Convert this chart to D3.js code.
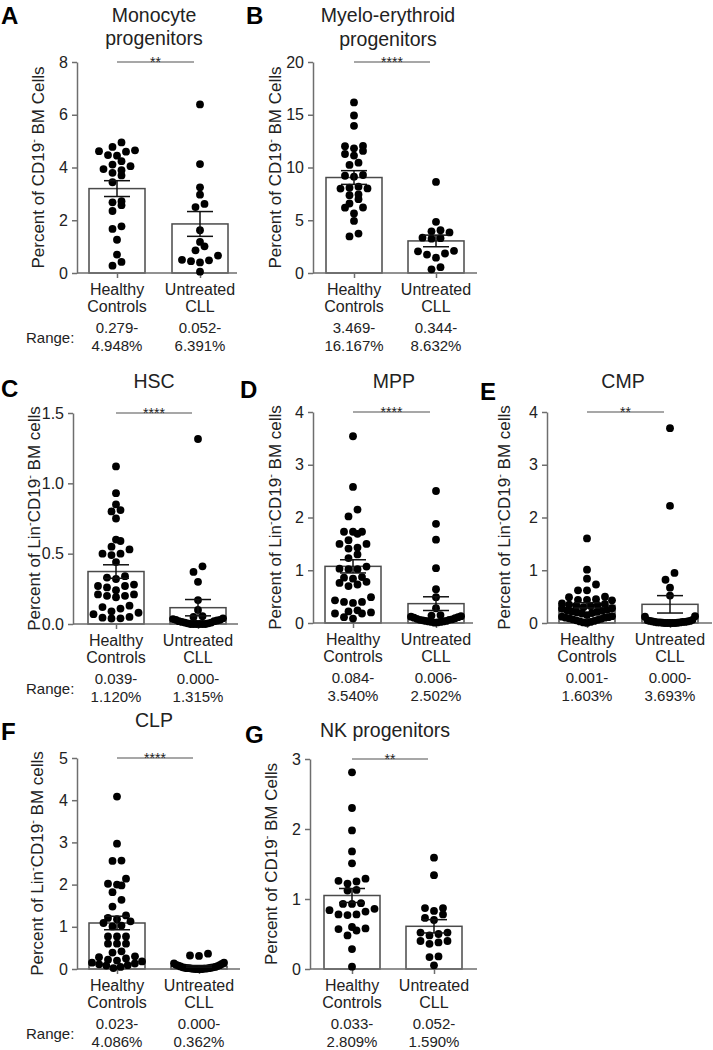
<!DOCTYPE html>
<html><head><meta charset="utf-8">
<script src="https://cdn.jsdelivr.net/npm/d3@7"></script>
<style>
body{margin:0;background:#fff}
svg{display:block}
text{font-family:"Liberation Sans",Arial,sans-serif;fill:#222}
</style>
</head><body>
<svg id="chart" width="713" height="1050"></svg>
<script>
// ---------------- DATA ----------------
const categories = ["Healthy", "Untreated"];
const categoryLine2 = ["Controls", "CLL"];
const panelIds = ["A", "B", "C", "D", "E", "F", "G"];
const titles = [["Monocyte", "progenitors"], ["Myelo-erythroid", "progenitors"], ["HSC"], ["MPP"], ["CMP"], ["CLP"], ["NK progenitors"]];
const yLabelKinds = ["cd19", "cd19", "lin", "lin", "lin", "lin", "cd19"];
const yMax = [8, 20, 1.5, 4, 4, 5, 3];
const yTicks = [[0, 2, 4, 6, 8], [0, 5, 10, 15, 20], [0, 0.5, 1.0, 1.5], [0, 1, 2, 3, 4], [0, 1, 2, 3, 4], [0, 1, 2, 3, 4, 5], [0, 1, 2, 3]];
const tickFormats = ["d", "d", ".1f", "d", "d", "d", "d"];
const significance = ["**", "****", "****", "****", "**", "****", "**"];

const monoHealthy = [4.95, 4.78, 4.62, 4.60, 4.65, 4.47, 4.45, 4.24, 4.11, 4.05, 3.94, 3.90, 3.80, 3.70, 3.44, 2.72, 2.68, 2.57, 2.35, 1.77, 1.67, 1.26, 0.70, 0.42, 0.279];
const monoCLL = [6.391, 4.13, 3.25, 2.97, 2.62, 2.50, 1.62, 1.18, 1.01, 0.86, 0.66, 0.50, 0.48, 0.45, 0.40, 0.052];
const meHealthy = [16.167, 14.93, 13.95, 12.04, 12.02, 11.82, 11.57, 11.28, 11.13, 10.46, 10.24, 9.29, 9.22, 9.13, 8.18, 8.08, 8.02, 8.00, 7.45, 7.38, 7.0, 6.59, 6.21, 6.19, 5.64, 4.94, 3.74, 3.469];
const meCLL = [8.632, 4.85, 4.05, 3.95, 3.85, 3.35, 3.30, 3.25, 2.10, 2.05, 1.85, 1.75, 1.45, 0.55, 0.344];
const hscHealthy = [1.12, 0.93, 0.85, 0.81, 0.80, 0.75, 0.60, 0.59, 0.55, 0.53, 0.50, 0.50, 0.49, 0.44, 0.34, 0.33, 0.32, 0.28, 0.27, 0.27, 0.26, 0.24, 0.21, 0.21, 0.20, 0.20, 0.19, 0.13, 0.12, 0.11, 0.09, 0.08, 0.07, 0.05, 0.045, 0.04, 0.039];
const hscCLL = [1.315, 0.41, 0.37, 0.30, 0.17, 0.10, 0.055, 0.05, 0.04, 0.035, 0.03, 0.03, 0.025, 0.02, 0.02, 0.015, 0.01, 0.01, 0.005, 0.005, 0, 0, 0, 0, 0, 0];
const mppHealthy = [3.54, 2.58, 2.15, 2.02, 1.73, 1.73, 1.73, 1.69, 1.57, 1.50, 1.50, 1.43, 1.41, 1.30, 1.23, 1.07, 1.03, 1.02, 1.02, 0.87, 0.86, 0.84, 0.78, 0.76, 0.73, 0.70, 0.49, 0.43, 0.40, 0.40, 0.38, 0.24, 0.22, 0.20, 0.18, 0.18, 0.11, 0.084];
const mppCLL = [2.502, 1.88, 1.58, 1.04, 0.64, 0.49, 0.28, 0.15, 0.14, 0.13, 0.12, 0.11, 0.10, 0.09, 0.08, 0.07, 0.06, 0.06, 0.05, 0.04, 0.04, 0.03, 0.03, 0.02, 0.02, 0.01, 0.006];
const cmpHealthy = [1.603, 1.01, 0.84, 0.73, 0.62, 0.62, 0.50, 0.49, 0.45, 0.44, 0.44, 0.43, 0.37, 0.36, 0.35, 0.34, 0.33, 0.32, 0.30, 0.28, 0.27, 0.25, 0.24, 0.23, 0.22, 0.21, 0.20, 0.19, 0.18, 0.15, 0.13, 0.12, 0.11, 0.10, 0.10, 0.09, 0.08, 0.07, 0.06, 0.05, 0.04, 0.03, 0.02, 0.01, 0.001];
const cmpCLL = [3.693, 2.22, 0.95, 0.82, 0.67, 0.52, 0.13, 0.12, 0.06, 0.05, 0.04, 0.04, 0.03, 0.03, 0.02, 0.02, 0.02, 0.01, 0.01, 0.01, 0.005, 0.005, 0, 0, 0, 0, 0];
const clpHealthy = [4.086, 2.97, 2.57, 2.56, 2.14, 2.0, 1.98, 2.02, 1.82, 1.64, 1.48, 1.27, 1.21, 1.18, 1.13, 1.09, 1.03, 1.01, 0.77, 0.77, 0.77, 0.60, 0.60, 0.60, 0.42, 0.39, 0.30, 0.28, 0.25, 0.22, 0.20, 0.18, 0.15, 0.13, 0.11, 0.09, 0.08, 0.05, 0.023];
const clpCLL = [0.362, 0.32, 0.31, 0.15, 0.13, 0.12, 0.10, 0.09, 0.08, 0.07, 0.06, 0.05, 0.04, 0.04, 0.03, 0.03, 0.02, 0.02, 0.02, 0.01, 0.01, 0.01, 0.005, 0, 0, 0, 0];
const nkHealthy = [2.809, 2.30, 1.98, 1.68, 1.51, 1.29, 1.26, 1.25, 1.22, 1.13, 1.12, 0.94, 0.93, 0.93, 0.86, 0.84, 0.82, 0.78, 0.78, 0.77, 0.60, 0.58, 0.57, 0.55, 0.48, 0.285, 0.033];
const nkCLL = [1.59, 1.34, 0.87, 0.87, 0.83, 0.78, 0.73, 0.70, 0.52, 0.52, 0.50, 0.48, 0.40, 0.40, 0.38, 0.36, 0.18, 0.17, 0.052];

const groupValues = [[monoHealthy, monoCLL], [meHealthy, meCLL], [hscHealthy, hscCLL], [mppHealthy, mppCLL], [cmpHealthy, cmpCLL], [clpHealthy, clpCLL], [nkHealthy, nkCLL]];
const means = [[3.2, 1.86], [9.05, 3.04], [0.373, 0.116], [1.074, 0.367], [0.335, 0.354], [1.09, 0.063], [1.05, 0.61]];
const sems = [[0.3, 0.47], [0.65, 0.55], [0.048, 0.058], [0.125, 0.13], [0.05, 0.165], [0.16, 0.02], [0.1, 0.095]];
const rangeLabels = [
  [["0.279-", "4.948%"], ["0.052-", "6.391%"]],
  [["3.469-", "16.167%"], ["0.344-", "8.632%"]],
  [["0.039-", "1.120%"], ["0.000-", "1.315%"]],
  [["0.084-", "3.540%"], ["0.006-", "2.502%"]],
  [["0.001-", "1.603%"], ["0.000-", "3.693%"]],
  [["0.023-", "4.086%"], ["0.000-", "0.362%"]],
  [["0.033-", "2.809%"], ["0.052-", "1.590%"]]
];

// ---------------- LAYOUT ----------------
const layout = [
  {ox: 77, top: 62, zero: 273, end: 237, c1: 117, c2: 200, tx: 154, ty: [22, 45], lx: 1, ly: 24, ylx: 44, rangeWord: true},
  {ox: 313, top: 62, zero: 273, end: 477, c1: 354, c2: 436, tx: 388, ty: [22, 46], lx: 246, ly: 24, ylx: 281, rangeWord: false},
  {ox: 73, top: 413, zero: 624, end: 238, c1: 116, c2: 198, tx: 154, ty: [388], lx: 1, ly: 397, ylx: 40, rangeWord: true},
  {ox: 313, top: 412, zero: 623, end: 473, c1: 353, c2: 436, tx: 394, ty: [388], lx: 240, ly: 398, ylx: 281, rangeWord: false},
  {ox: 547, top: 412, zero: 623, end: 712, c1: 587, c2: 670, tx: 623, ty: [388], lx: 480, ly: 400, ylx: 510, rangeWord: false},
  {ox: 77, top: 758, zero: 969, end: 240, c1: 117, c2: 199, tx: 154, ty: [727], lx: 1, ly: 740, ylx: 43, rangeWord: true},
  {ox: 310, top: 759, zero: 969, end: 477, c1: 352, c2: 434, tx: 385, ty: [737], lx: 245, ly: 743, ylx: 277, rangeWord: false}
];

const AXIS = "#6e6e6e", BAR = "#4a4a4a";
const barHalf = 28, capHalf = 13, dotR = 3.9, dotGap = 9, rowH = 7, swarmHalf = 25;

const svg = d3.select("#chart");

function swarm(vals, y, cx) {
  const pts = vals.map(v => ({v, py: y(v)})).sort((a, b) => b.py - a.py);
  const rows = [];
  let cur = null;
  pts.forEach(p => {
    if (!cur || cur[0].py - p.py > rowH) { cur = [p]; rows.push(cur); } else cur.push(p);
  });
  rows.forEach(row => {
    const n = row.length;
    const s = n > 1 ? Math.min(dotGap, 2 * swarmHalf / (n - 1)) : 0;
    const slots = d3.range(n).map(i => (i - (n - 1) / 2) * s)
      .sort((a, b) => Math.abs(a) - Math.abs(b) || a - b);
    row.forEach((p, i) => p.px = cx + slots[i]);
  });
  return pts;
}

function yLabel(g, kind) {
  const t = g.append("text").attr("text-anchor", "middle").attr("font-size", 17);
  t.append("tspan").text(kind === "lin" ? "Percent of Lin" : "Percent of CD19");
  t.append("tspan").attr("font-size", 11).attr("dy", -7).text("-");
  if (kind === "lin") {
    t.append("tspan").attr("dy", 7).text("CD19");
    t.append("tspan").attr("font-size", 11).attr("dy", -7).text("-");
    t.append("tspan").attr("dy", 7).text(" BM cells");
  } else {
    t.append("tspan").attr("dy", 7).text(" BM Cells");
  }
}

panelIds.forEach((id, i) => {
  const L = layout[i];
  const g = svg.append("g");
  const y = d3.scaleLinear().domain([0, yMax[i]]).range([L.zero, L.top]);
  const x = d3.scalePoint().domain(categories).range([L.c1, L.c2]);

  // panel letter + title
  g.append("text").attr("x", L.lx).attr("y", L.ly).attr("font-size", 24).attr("font-weight", "bold")
    .style("fill", "#000").text(id);
  titles[i].forEach((line, k) => g.append("text").attr("x", L.tx).attr("y", L.ty[k])
    .attr("text-anchor", "middle").attr("font-size", 19.5).text(line));

  // y axis
  const ya = g.append("g").attr("transform", `translate(${L.ox},0)`)
    .call(d3.axisLeft(y).tickValues(yTicks[i]).tickFormat(d3.format(tickFormats[i]))
      .tickSize(5).tickSizeOuter(0).tickPadding(4));
  ya.select(".domain").attr("stroke", AXIS).attr("stroke-width", 1.5);
  ya.selectAll(".tick line").attr("stroke", AXIS).attr("stroke-width", 1.5);
  ya.selectAll(".tick text").attr("font-size", 16).attr("font-family", "Liberation Sans, Arial, sans-serif").style("fill", "#222");

  // y label
  const yl = g.append("g").attr("transform", `translate(${L.ylx},${(L.top + L.zero) / 2}) rotate(-90)`);
  yLabel(yl, yLabelKinds[i]);

  // bars
  categories.forEach((c, k) => {
    g.append("rect").attr("x", x(c) - barHalf).attr("width", 2 * barHalf)
      .attr("y", y(means[i][k])).attr("height", L.zero - y(means[i][k]))
      .attr("fill", "#fff").attr("stroke", BAR).attr("stroke-width", 1.5);
  });

  // x axis
  g.append("line").attr("x1", L.ox).attr("x2", L.end).attr("y1", L.zero).attr("y2", L.zero)
    .attr("stroke", AXIS).attr("stroke-width", 1.5);
  const xa = g.append("g").attr("transform", `translate(0,${L.zero})`)
    .call(d3.axisBottom(x).tickSize(5).tickSizeOuter(0).tickFormat(""));
  xa.select(".domain").remove();
  xa.selectAll(".tick line").attr("stroke", AXIS).attr("stroke-width", 1.5);

  // dots
  categories.forEach((c, k) => {
    const pts = swarm(groupValues[i][k], y, x(c));
    g.selectAll(null).data(pts).enter().append("circle")
      .attr("cx", d => d.px).attr("cy", d => d.py).attr("r", dotR).attr("fill", "#000");
  });

  // error bars
  categories.forEach((c, k) => {
    const m = means[i][k], s = sems[i][k], cx = x(c);
    const eg = g.append("g").attr("stroke", "#111").attr("stroke-width", 1.5);
    eg.append("line").attr("x1", cx).attr("x2", cx).attr("y1", y(m - s)).attr("y2", y(m + s));
    [m - s, m + s].forEach(v => eg.append("line").attr("x1", cx - capHalf).attr("x2", cx + capHalf)
      .attr("y1", y(v)).attr("y2", y(v)));
  });

  // significance
  const sx1 = x(categories[0]), sx2 = x(categories[1]) - 6;
  g.append("line").attr("x1", sx1).attr("x2", sx2).attr("y1", L.top).attr("y2", L.top)
    .attr("stroke", "#8a8a8a").attr("stroke-width", 1.5);
  g.append("text").attr("x", (sx1 + sx2) / 2).attr("y", L.top + 5).attr("text-anchor", "middle")
    .attr("font-size", 14).text(significance[i]);

  // category labels
  categories.forEach((c, k) => {
    g.append("text").attr("x", x(c)).attr("y", L.zero + 22).attr("text-anchor", "middle").attr("font-size", 16).text(c);
    g.append("text").attr("x", x(c)).attr("y", L.zero + 39).attr("text-anchor", "middle").attr("font-size", 16).text(categoryLine2[k]);
    rangeLabels[i][k].forEach((r, j) => g.append("text").attr("x", x(c)).attr("y", L.zero + 60 + 18 * j)
      .attr("text-anchor", "middle").attr("font-size", 15).text(r));
  });
  if (L.rangeWord) {
    g.append("text").attr("x", 26).attr("y", L.zero + 70).attr("font-size", 15).text("Range:");
  }
});
</script>
</body></html>
